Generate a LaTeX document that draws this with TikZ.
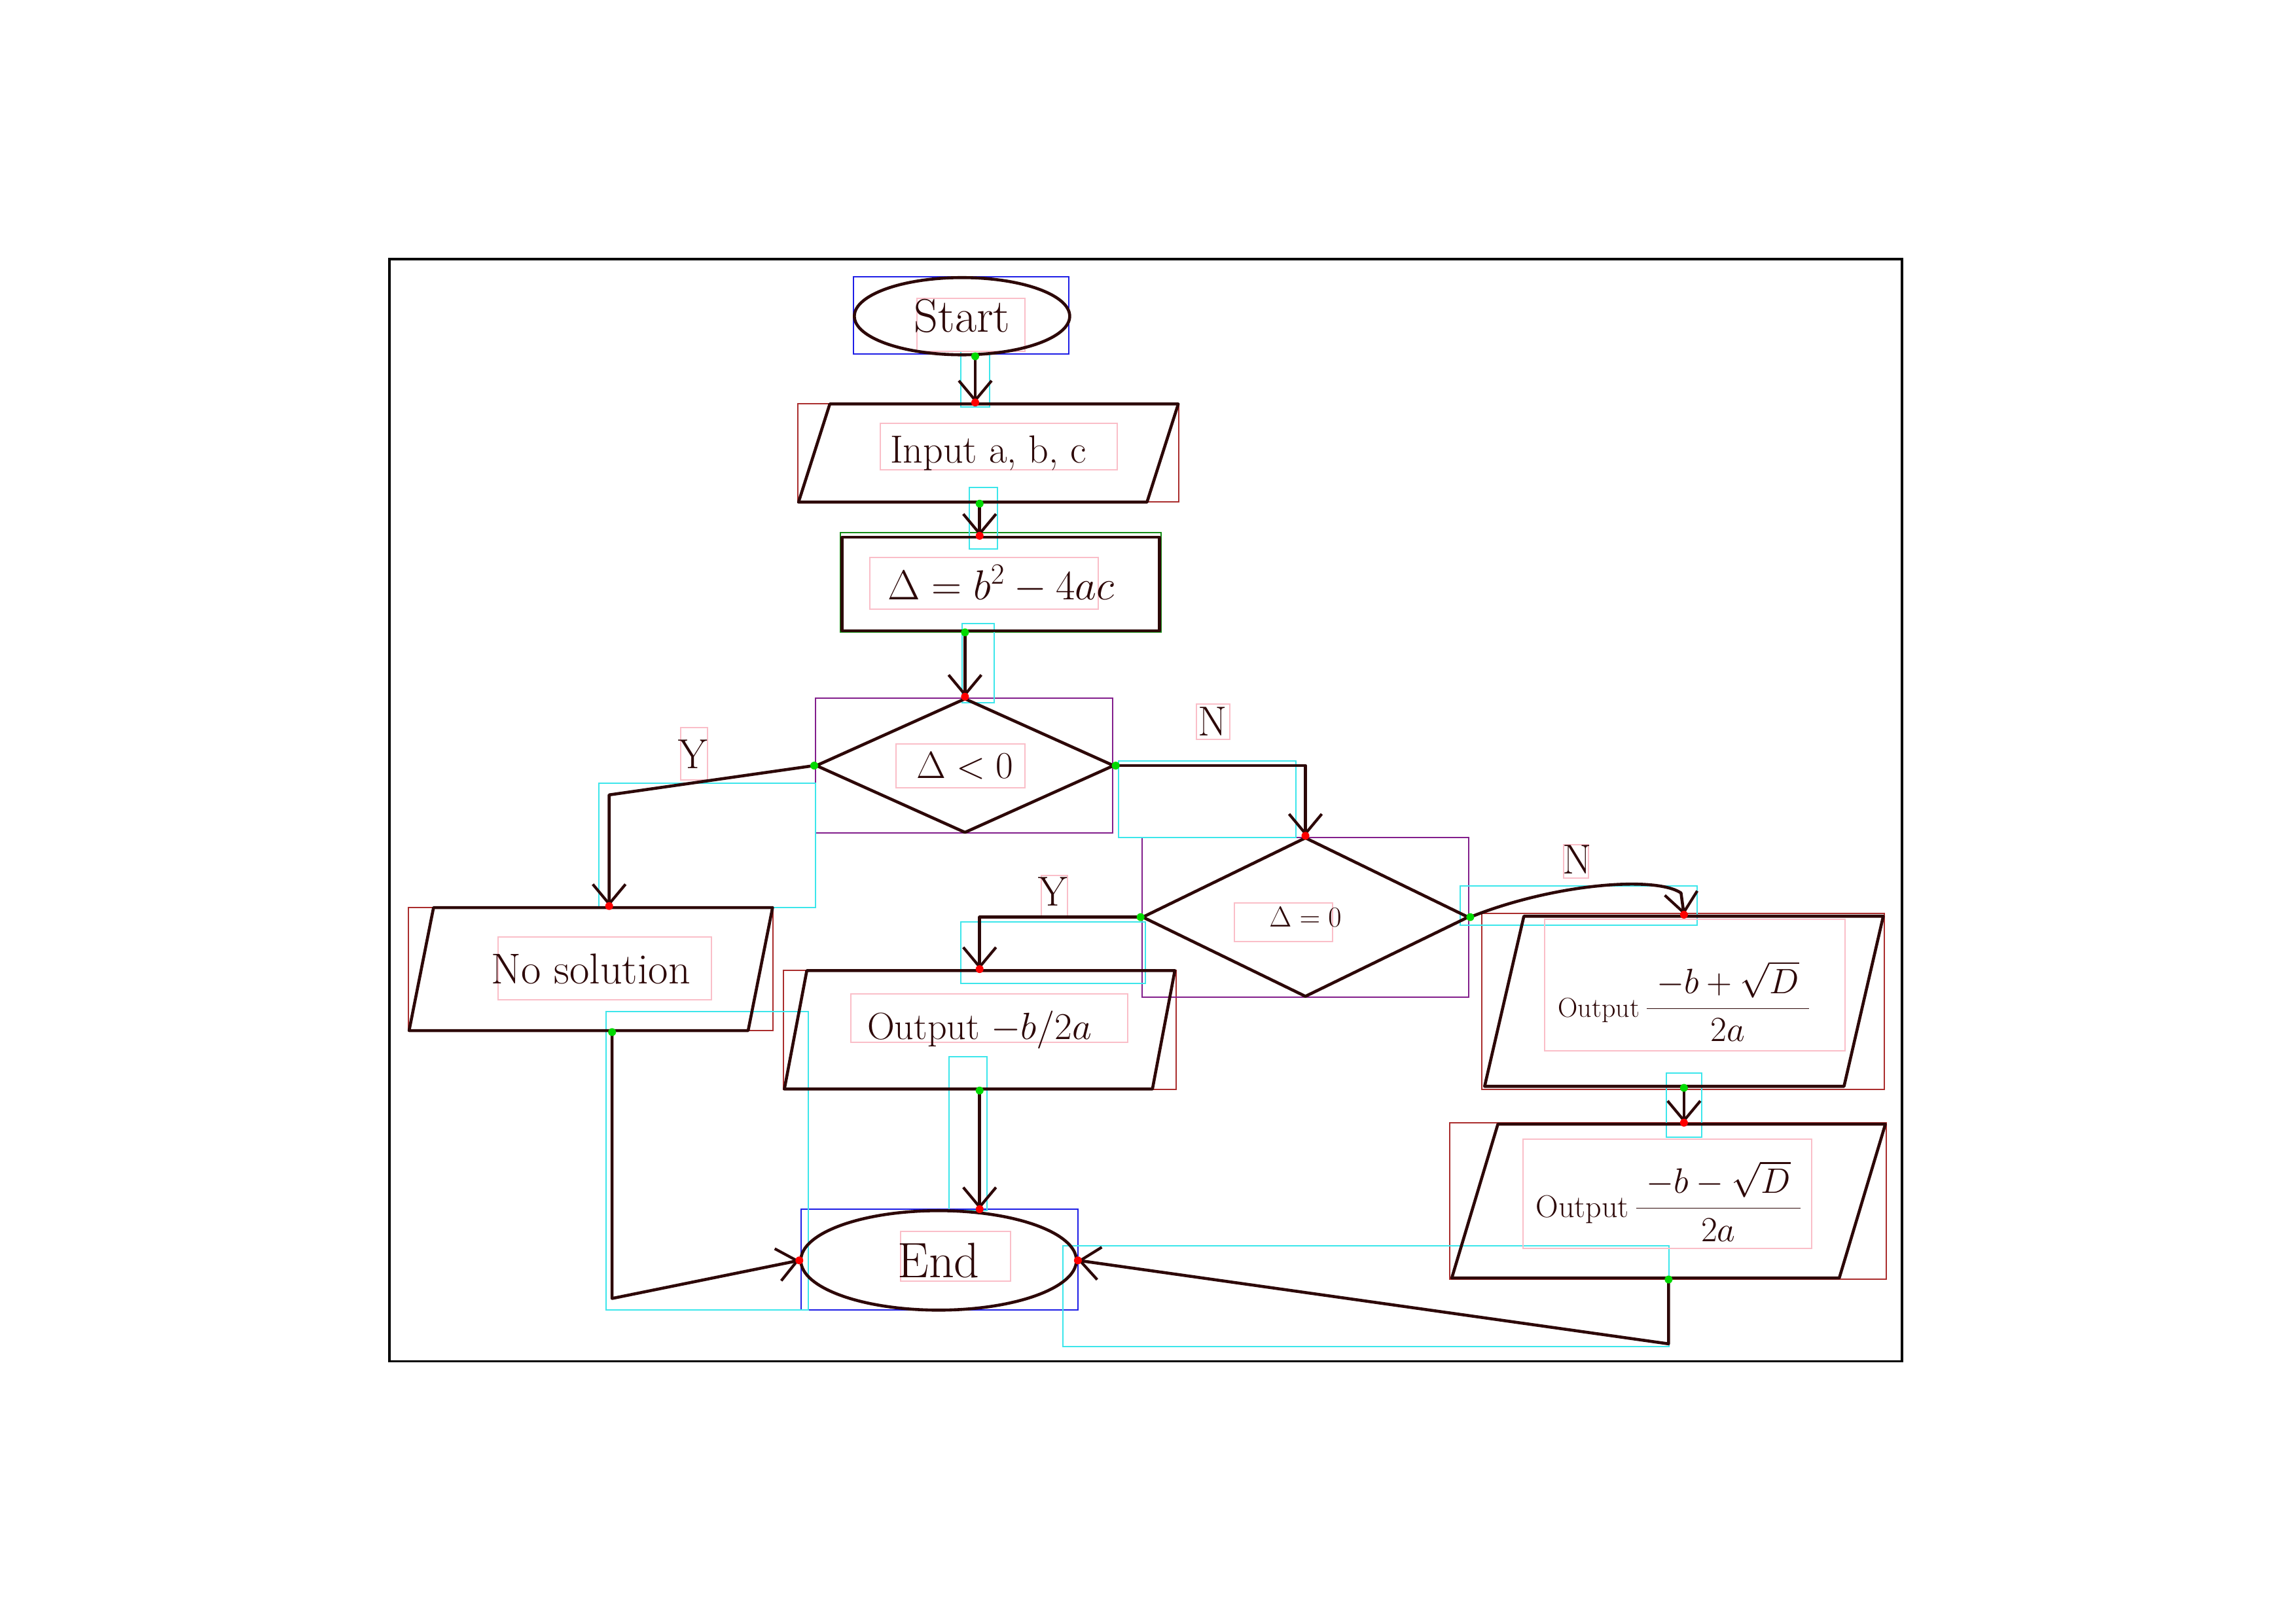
\RequirePackage{fix-cm}
\documentclass[tikz,border=0pt]{standalone}
\usepackage{amsmath}
\usetikzlibrary{shapes.geometric,arrows.meta,calc}

\definecolor{inkc}{RGB}{45,8,8}
\definecolor{boxblue}{RGB}{30,30,230}
\definecolor{boxred}{RGB}{170,45,45}
\definecolor{boxgreen}{RGB}{20,140,20}
\definecolor{boxpurple}{RGB}{130,30,140}
\definecolor{boxcyan}{RGB}{60,230,235}
\definecolor{boxpink}{RGB}{250,190,200}

\tikzset{
  ink/.style={draw=inkc, line width=4.6pt, line join=round, line cap=round, text=inkc},
  term/.style={ink, ellipse, inner sep=0pt},
  io/.style={ink, trapezium, trapezium stretches=true, inner sep=0pt},
  proc/.style={ink, rectangle, inner sep=0pt},
  dec/.style={ink, diamond, inner sep=0pt},
  flow/.style={ink, -{Straight Barb[length=30pt,width=50pt,line width=4.2pt]}},
  lbl/.style={text=inkc, font=\fontsize{64}{70}\selectfont},
  markbox/.style={line width=2pt},
  enddot/.style={fill=red},
  startdot/.style={fill=green!85!black},
}

\begin{document}
\begin{tikzpicture}[x=2.2372pt,y=-2.2372pt]
\useasboundingbox (0,0) rectangle (1568,1109);
\fill[white] (0,0) rectangle (1568,1109);

% outer frame
\draw[line width=3.5pt, black] (266,177) rectangle (1299,930);

% labelled boxes around shapes, connectors and texts
\draw[markbox, boxblue] (583,189) rectangle (730,242);
\draw[markbox, boxblue] (547,826) rectangle (736,895);
\draw[markbox, boxred] (545,276) rectangle (805,343);
\draw[markbox, boxred] (279,620) rectangle (528,704);
\draw[markbox, boxred] (535,663) rectangle (803,744);
\draw[markbox, boxred] (1012,624) rectangle (1287,744);
\draw[markbox, boxred] (990,767) rectangle (1288,874);
\draw[markbox, boxgreen] (574,364) rectangle (793,432);
\draw[markbox, boxpurple] (557,477) rectangle (760,569);
\draw[markbox, boxpurple] (780,572) rectangle (1003,681);
\draw[markbox, boxcyan] (656,240) rectangle (676,278);
\draw[markbox, boxcyan] (662,333) rectangle (681,375);
\draw[markbox, boxcyan] (657,426) rectangle (679,480);
\draw[markbox, boxcyan] (409,535) rectangle (557,620);
\draw[markbox, boxcyan] (764,520) rectangle (885,572);
\draw[markbox, boxcyan] (656,630) rectangle (782,672);
\draw[markbox, boxcyan] (997,605) rectangle (1159,632);
\draw[markbox, boxcyan] (648,722) rectangle (674,827);
\draw[markbox, boxcyan] (414,691) rectangle (552,895);
\draw[markbox, boxcyan] (1138,733) rectangle (1162,777);
\draw[markbox, boxcyan] (726,851) rectangle (1140,920);
\draw[markbox, boxpink] (626,204) rectangle (700,240);
\draw[markbox, boxpink] (601,289) rectangle (763,321);
\draw[markbox, boxpink] (594,381) rectangle (750,416);
\draw[markbox, boxpink] (612,508) rectangle (700,538);
\draw[markbox, boxpink] (465,497) rectangle (483,533);
\draw[markbox, boxpink] (817,481) rectangle (840,505);
\draw[markbox, boxpink] (340,640) rectangle (486,683);
\draw[markbox, boxpink] (711,598) rectangle (729,627);
\draw[markbox, boxpink] (843,617) rectangle (910,643);
\draw[markbox, boxpink] (1068,577) rectangle (1085,600);
\draw[markbox, boxpink] (581,679) rectangle (770,712);
\draw[markbox, boxpink] (1055,628) rectangle (1260,718);
\draw[markbox, boxpink] (1040,778) rectangle (1237,853);
\draw[markbox, boxpink] (615,841) rectangle (690,875);

% flowchart shapes
\node[term, minimum width=329pt, minimum height=118pt, font=\fontsize{72}{80}\selectfont] (start) at (657,216) {Start};
\node[io, trapezium left angle=61, trapezium right angle=119, minimum width=582pt, minimum height=150pt, font=\fontsize{60}{70}\selectfont] (input) at (675,309.5) {Input a, b, c};
\node[proc, minimum width=485pt, minimum height=143pt, font=\fontsize{64}{70}\selectfont] (disc) at (683.5,399) {$\Delta = b^2 - 4ac$};
\node[dec, minimum width=456pt, minimum height=206pt, font=\fontsize{58}{64}\selectfont] (neg) at (659,523) {$\Delta < 0$};
\node[io, trapezium left angle=63, trapezium right angle=117, minimum width=557pt, minimum height=188pt, font=\fontsize{66}{72}\selectfont] (nosol) at (403.5,662) {No solution};
\node[dec, minimum width=499pt, minimum height=244pt, font=\fontsize{44}{50}\selectfont] (zero) at (891.5,626.5) {$\Delta = 0$};
\node[io, trapezium left angle=69, trapezium right angle=111, minimum width=600pt, minimum height=181pt, font=\fontsize{58}{64}\selectfont] (single) at (669,703.5) {Output $-b/2a$};
\node[io, trapezium left angle=69, trapezium right angle=111, minimum width=613pt, minimum height=260pt] (rootp) at (1150,684)
  {{\fontsize{42}{48}\selectfont Output}\quad{\fontsize{54}{60}\selectfont $\dfrac{\;-b+\sqrt{D}\;}{2a}$}};
\node[io, trapezium left angle=66, trapezium right angle=114, minimum width=664pt, minimum height=235pt] (rootm) at (1139.5,820.5)
  {{\fontsize{48}{54}\selectfont Output}\quad{\fontsize{54}{60}\selectfont $\dfrac{\;-b-\sqrt{D}\;}{2a}$}};
\node[term, minimum width=421pt, minimum height=152pt, font=\fontsize{76}{84}\selectfont] (end) at (641,861) {End};

% branch labels
\node[lbl] (yneg) at (473,515) {Y};
\node[lbl] (nneg) at (828,493) {N};
\node[lbl] (yzero) at (719,609) {Y};
\node[lbl] (nzero) at (1077,587) {N};

% bend points of the connectors
\coordinate (yl) at (416,543);
\coordinate (lowl) at (418,887);
\coordinate (lowr) at (1139.5,918);
\coordinate (topa) at ($(start.south)+(9,0)$);
\coordinate (topb) at ($(input.south)+(-6,0)$);

% connectors
\draw[flow] (topa) -- (topa |- input.north);
\draw[flow] (topb) -- (topb |- disc.north);
\draw[flow] (disc.south -| neg.north) -- (neg.north);
\draw[flow] (neg.west) -- (yl) -- (yl |- nosol.north);
\draw[flow] (neg.east) -| (zero.north);
\draw[flow] (zero.west) -| (single.north);
\draw[flow] (zero.east) .. controls (1060,604) and (1130,598) .. (1148,610) -- (rootp.north);
\draw[flow] (single.south) -- (single.south |- end.north);
\draw[flow] (rootp.south) -- (rootp.south |- rootm.north);
\draw[flow] (rootm.south) -- (lowr) -- (end.east);
\draw[flow] (nosol.south -| lowl) -- (lowl) -- (end.west);

% connector end markers
\foreach \p in {topa, topb, disc.south -| neg.north, neg.west, neg.east, zero.west, zero.east, single.south, rootp.south, rootm.south, nosol.south -| lowl}
  \fill[startdot] (\p) circle (6pt);
\foreach \p in {topa |- input.north, topb |- disc.north, neg.north, yl |- nosol.north, zero.north, single.north, rootp.north, single.south |- end.north, rootp.south |- rootm.north, end.east, end.west}
  \fill[enddot] (\p) circle (6pt);
\end{tikzpicture}
\end{document}
